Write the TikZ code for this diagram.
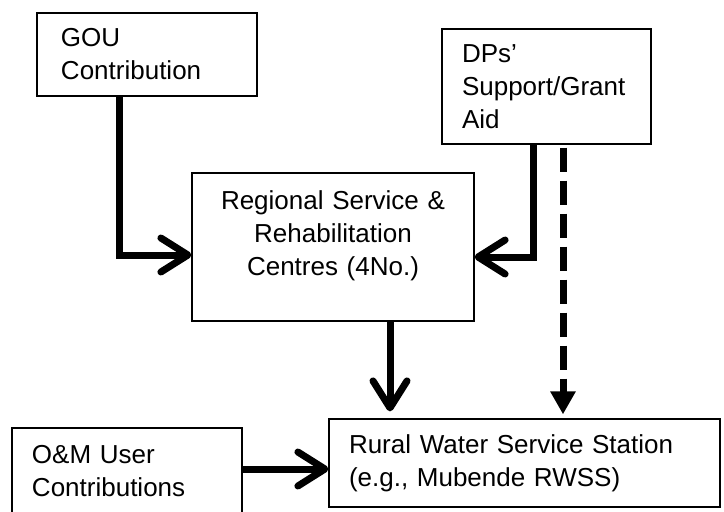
\documentclass[tikz,border=0pt]{standalone}
\usepackage{fontspec}
\setmainfont{Liberation Sans}
\usetikzlibrary{arrows.meta}

\begin{document}
\begin{tikzpicture}[
    every node/.style={draw, line width=0.6pt, inner xsep=10pt, inner ysep=0pt, align=left, font=\fontsize{13pt}{16.5pt}\selectfont},
    flow/.style={line width=3.5pt, -{Straight Barb[length=13.5pt, width=17pt, round]}},
    grant/.style={line width=3.5pt, dash pattern=on 12pt off 4.5pt, -{Triangle[length=11.5pt, width=12pt]}}
]
\useasboundingbox (0,0) rectangle (362pt,-255.5pt);

\node[text width=86pt, inner xsep=12pt, minimum height=41.5pt] (gou) at (73.5pt,-27.25pt) {GOU\\ Contribution};
\node[text width=84.5pt, minimum height=57.5pt] (dps) at (273.25pt,-43.25pt) {DPs’\\ Support/Grant\\ Aid};
\node[text width=121pt, align=center, minimum height=74pt] (reg) at (166.5pt,-123.5pt)
    {Regional Service \&\\ Rehabilitation\\ Centres (4No.)\rule[-14pt]{0pt}{14pt}};
\node[text width=175.5pt, minimum height=44pt] (rwss) at (262.25pt,-231.5pt) {Rural Water Service Station\\ (e.g., Mubende RWSS)};
\node[text width=95pt, minimum height=43.5pt] (om) at (63.5pt,-235.75pt) {O\&M User\\ Contributions};

\coordinate (goufoot) at ([xshift=-14pt]gou.south);
\coordinate (dpsfoot) at ([xshift=-6.75pt]dps.south);
\coordinate (dpsdash) at ([xshift=8.25pt,yshift=-1.5pt]dps.south);
\coordinate (regfoot) at ([xshift=28.5pt]reg.south);
\coordinate (omside) at ([yshift=1.25pt]om.east);

\draw[flow] (goufoot) |- ([yshift=-4pt]reg.west);
\draw[flow] (dpsfoot) |- ([yshift=-5pt]reg.east);
\draw[grant] (dpsdash) -- ([yshift=2pt]dpsdash |- rwss.north);
\draw[flow] (regfoot) -- ([yshift=3.5pt]regfoot |- rwss.north);
\draw[flow] (omside) -- (omside -| rwss.west);
\end{tikzpicture}
\end{document}
